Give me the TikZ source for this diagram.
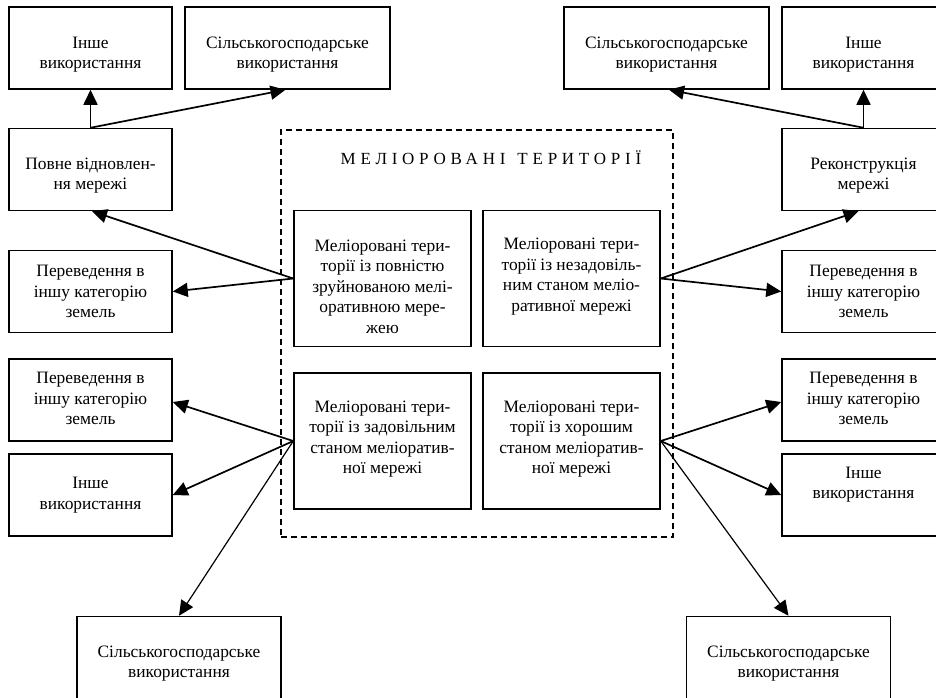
\documentclass[tikz,border=0pt]{standalone}
\usepackage{fontspec}
\setmainfont{Liberation Serif}
\newfontfamily\titlefont[LetterSpace=28]{Liberation Serif}
\usetikzlibrary{arrows.meta,calc}
\tikzset{
  box/.style={draw, line width=1.5pt, inner sep=0pt},
  sbox/.style={box, minimum width=163pt, minimum height=82pt},
  wbox/.style={box, minimum width=205pt, minimum height=82pt},
  cbox/.style={box, minimum width=177pt, minimum height=136pt},
  txt/.style={inner sep=0pt, align=center, font=\fontsize{17.4}{20.5}\selectfont},
  arr/.style={line width=1.7pt, -{Triangle[length=15pt,width=14pt]}},
  tarr/.style={line width=1.2pt, -{Triangle[length=15pt,width=14pt]}},
  frame/.style={draw, line width=1.2pt, dash pattern=on 6pt off 4pt}
}
\begin{document}
\begin{tikzpicture}[x=1pt,y=-1pt]
\useasboundingbox (0,0) rectangle (936,697);
\clip (0,0) rectangle (936,697);
% dashed frame
\node[frame, minimum width=392pt, minimum height=407pt, inner sep=0pt] (frm) at (477,333.5) {};
\node[inner sep=0pt, font=\fontsize{17}{20}\selectfont\titlefont] (ttl) at (491,158) {МЕЛІОРОВАНІ\hspace{12pt}ТЕРИТОРІЇ};
% center boxes
\node[cbox] (c1) at (382.5,278.5) {};
\node[cbox] (c2) at (571.5,278.5) {};
\node[cbox] (c3) at (382.5,441) {};
\node[cbox] (c4) at (571.5,441) {};
\node[txt] (t1) at ([yshift=-8pt]c1.center) {Меліоровані тери-\\торії із повністю\\зруйнованою мелі-\\оративною мере-\\жею};
\node[txt] (t2) at ([yshift=2pt]c2.center) {Меліоровані тери-\\торії із незадовіль-\\ним станом меліо-\\ративної мережі};
\node[txt] (t3) at ([yshift=2pt]c3.center) {Меліоровані тери-\\торії із задовільним\\станом меліоратив-\\ної мережі};
\node[txt] (t4) at ([yshift=2pt]c4.center) {Меліоровані тери-\\торії із хорошим\\станом меліоратив-\\ної мережі};
% left side
\node[sbox] (a1) at (90.5,48) {};
\node[wbox] (a2) at (287.5,48) {};
\node[sbox] (a3) at (90.5,169.5) {};
\node[sbox] (a4) at (90.5,291.5) {};
\node[sbox] (a5) at (90.5,400) {};
\node[sbox] (a6) at (90.5,495) {};
\node[wbox, minimum width=204pt] (a7) at (179,657.5) {};
\node[txt] at ([yshift=-6.5pt]a1.center) {Інше\\використання};
\node[txt] at ([yshift=-6.5pt]a2.center) {Сільськогосподарське\\використання};
\node[txt] at ([yshift=-6pt]a3.center) {Повне відновлен-\\ня мережі};
\node[txt] at (a4.center) {Переведення в\\іншу категорію\\земель};
\node[txt] at ([yshift=1.5pt]a5.center) {Переведення в\\іншу категорію\\земель};
\node[txt] at (a6.center) {Інше\\використання};
\node[txt] at ([yshift=-6pt]a7.center) {Сільськогосподарське\\використання};
% right side
\node[wbox] (b1) at (666.5,48) {};
\node[sbox] (b2) at (863.5,48) {};
\node[sbox] (b3) at (863.5,169.5) {};
\node[sbox] (b4) at (863.5,291.5) {};
\node[sbox] (b5) at (863.5,400) {};
\node[sbox] (b6) at (863.5,495) {};
\node[wbox, minimum width=204pt] (b7) at (788.5,657.5) {};
\node[txt] at ([yshift=-6.5pt]b1.center) {Сільськогосподарське\\використання};
\node[txt] at ([yshift=-6.5pt]b2.center) {Інше\\використання};
\node[txt] at ([yshift=-6pt]b3.center) {Реконструкція\\мережі};
\node[txt] at (b4.center) {Переведення в\\іншу категорію\\земель};
\node[txt] at ([yshift=1.5pt]b5.center) {Переведення в\\іншу категорію\\земель};
\node[txt] at ([yshift=10.5pt]b6.center) {Інше\\використання};
\node[txt] at ([yshift=-6pt]b7.center) {Сільськогосподарське\\використання};
% arrows left
\draw[arr] (a3.north) -- (a1.south);
\draw[arr] (a3.north) -- ([xshift=-2pt]a2.south);
\draw[arr] (c1.west) -- ([xshift=1.5pt]a3.south);
\draw[arr] (c1.west) -- (a4.east);
\draw[arr] (c3.west) -- ([yshift=-2pt]a5.east);
\draw[arr] (c3.west) -- (a6.east);
\draw[tarr] (c3.west) -- (a7.north);
% arrows right
\draw[arr] (b3.north) -- (b2.south);
\draw[arr] (b3.north) -- ([xshift=2.5pt]b1.south);
\draw[arr] (c2.east) -- ([xshift=-5pt]b3.south);
\draw[arr] (c2.east) -- (b4.west);
\draw[arr] (c4.east) -- ([yshift=-2pt]b5.west);
\draw[arr] (c4.east) -- (b6.west);
\draw[tarr] (c4.east) -- (b7.north);
\end{tikzpicture}
\end{document}
